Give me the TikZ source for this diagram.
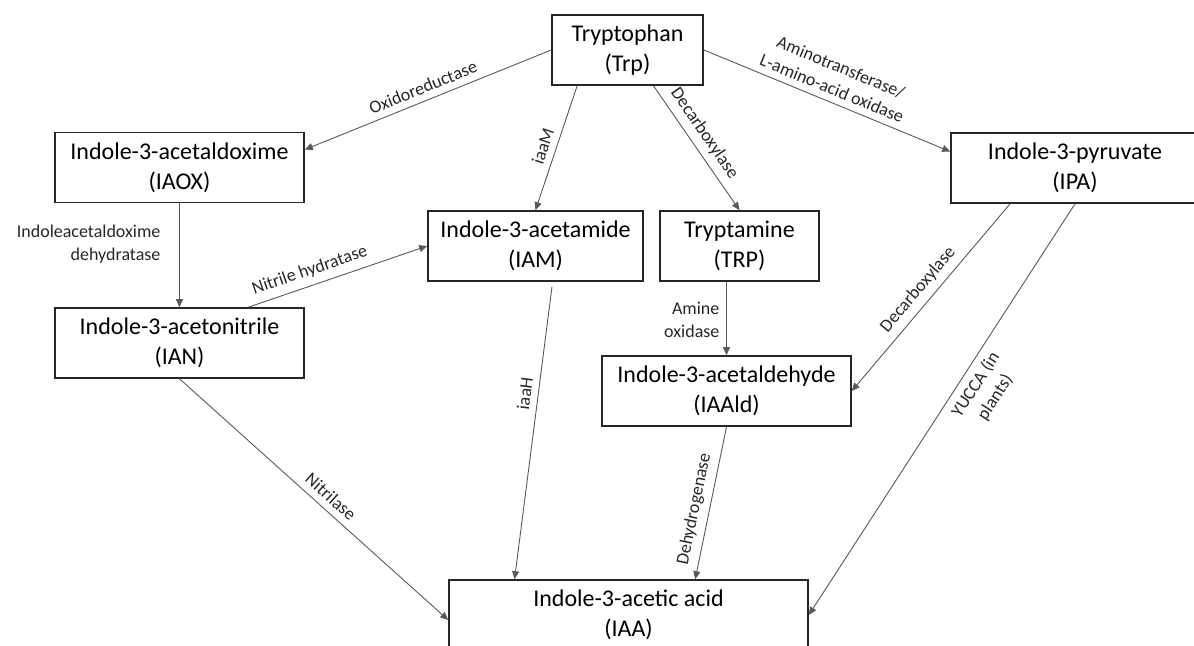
\documentclass[tikz,border=0pt]{standalone}
\usepackage{fontspec}
\setmainfont{Carlito}
\usetikzlibrary{
		calc,
		arrows.meta
	}
\tikzset{
		>={Triangle[length=4pt,width=3.5pt]},
		compound/.style={draw=black!85, line width=0.8pt, align=center, inner sep=0pt,
			minimum height=35pt, font=\fontsize{12}{15}\selectfont},
		enzyme/.style={align=center, text=black!85, font=\fontsize{9}{11.5}\selectfont},
		route/.style={->, draw=black!65, line width=0.45pt}
	}

\begin{document}
\begin{tikzpicture}[x=0.5pt, y=-0.5pt]
		\useasboundingbox (0,0) rectangle (1194,646);
		\node[compound, minimum width=75.5pt] (trp) at (627.5,50) {Tryptophan\\(Trp)};
		\node[compound, minimum width=124.5pt] (iaox) at (179.5,167.5) {Indole-3-acetaldoxime\\(IAOX)};
		\node[compound, minimum width=124.5pt] (ian) at (179.5,343) {Indole-3-acetonitrile\\(IAN)};
		\node[compound, minimum width=107.5pt] (iam) at (535.5,246) {Indole-3-acetamide\\(IAM)};
		\node[compound, minimum width=79.5pt] (trpm) at (739.5,246) {Tryptamine\\(TRP)};
		\node[compound, minimum width=124.5pt] (iaald) at (726.5,391) {Indole-3-acetaldehyde\\(IAAld)};
		\node[compound, minimum width=124pt] (ipa) at (1075,168) {Indole-3-pyruvate\\(IPA)};
		\node[compound, minimum width=179.5pt] (iaa) at (628.5,615) {Indole-3-acetic acid\\(IAA)};

		\draw[route] (trp.west) -- node[enzyme, sloped, above, pos=0.5] (oxr) {Oxidoreductase} ($(iaox.north east)!0.25!(iaox.south east)$);
		\draw[route] ($(trp.south west)!0.17!(trp.south east)$) -- node[enzyme, sloped, above, pos=0.52] (iaam) {iaaM} (iam.north);
		\draw[route] ($(trp.south west)!0.67!(trp.south east)$) -- node[enzyme, sloped, above, pos=0.45] (dcx) {Decarboxylase} (trpm.north);
		\draw[route] (trp.east) -- node[enzyme, sloped, above, pos=0.5] (amt) {Aminotransferase/\\L-amino-acid oxidase} ($(ipa.north west)!0.27!(ipa.south west)$);
		\draw[route] (iaox.south) -- node[enzyme, align=right, left=6pt, pos=0.39] (iad) {Indoleacetaldoxime\\dehydratase} (ian.north);
		\draw[route] ($(ian.north west)!0.775!(ian.north east)$) -- node[enzyme, sloped, above, pos=0.37] (nhy) {Nitrile hydratase} (iam.west);
		\draw[route] (ian.south) -- node[enzyme, sloped, above, pos=0.53] (nit) {Nitrilase} ($(iaa.north west)!0.57!(iaa.south west)$);
		\draw[route] ([shift={(16.5,5)}]iam.south) -- node[enzyme, sloped, above, pos=0.37] (iaah) {iaaH} ($(iaa.north west)!0.184!(iaa.north east)$);
		\draw[route] (iaald.north |- trpm.south) -- node[enzyme, align=right, left, pos=0.52] (amo) {Amine\\oxidase} (iaald.north);
		\draw[route] ($(ipa.south west)!0.24!(ipa.south east)$) -- node[enzyme, sloped, above, pos=0.51] (dcx2) {Decarboxylase} (iaald.east);
		\draw[route] (iaald.south) -- node[enzyme, sloped, above, pos=0.56] (dhg) {Dehydrogenase} ($(iaa.north west)!0.685!(iaa.north east)$);
		\draw[route] (ipa.south) -- node[enzyme, sloped, below, pos=0.42] (yuc) {YUCCA (in\\plants)} (iaa.east);
	\end{tikzpicture}
\end{document}
